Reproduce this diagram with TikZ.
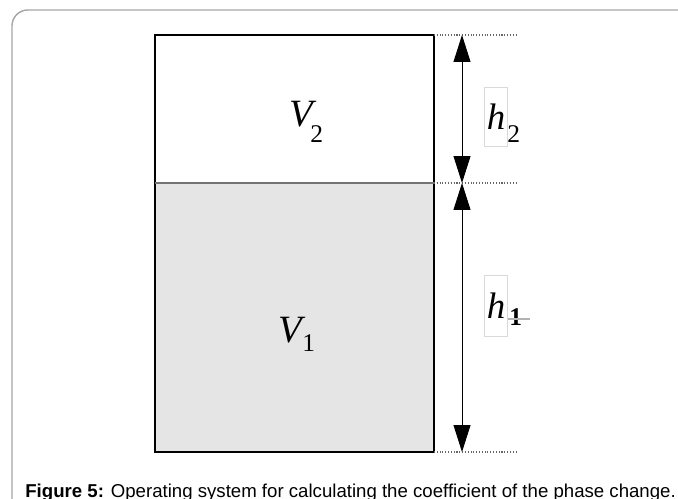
\documentclass[tikz,border=0pt]{standalone}
\usepackage{fontspec}
\setmainfont{Liberation Serif}
\newfontfamily\capfont{Liberation Sans}
\usetikzlibrary{arrows.meta,positioning}

\begin{document}
\begin{tikzpicture}[x=0.02cm, y=-0.02cm,
	   >={Triangle[length=0.54cm,width=0.34cm]},
	   dim/.style={<->, line width=0.5pt},
	   guide/.style={densely dotted, black!60, line width=0.6pt},
	   vol/.style={inner sep=0pt, font=\fontsize{22}{22}\selectfont\itshape},
	   hbox/.style={draw=black!15, line width=0.4pt, minimum width=0.46cm, inner sep=0pt, font=\fontsize{21}{21}\selectfont\itshape},
	   sub/.style={inner sep=0pt, font=\fontsize{14.5}{14.5}\selectfont}]
	  \useasboundingbox (0,0) rectangle (678,499);
	  \begin{scope}
	    \clip (0,0) rectangle (678,499);
	    \draw[black!35, line width=0.8pt, rounded corners=9pt] (12,10) rectangle (720,540);
	  \end{scope}
	  % tank
	  \coordinate (tl) at (155,35);
	  \coordinate (ml) at (155,183);
	  \coordinate (mr) at (434,183);
	  \coordinate (tr) at (434,35);
	  \coordinate (br) at (434,452);
	  \fill[black!10] (ml) rectangle (br);
	  \draw[line width=0.7pt] (tl) rectangle (br);
	  \draw[black!55, line width=1pt] (ml) -- (mr);
	  % volumes
	  \node[vol] (v2) at (301,114) {V};
	  \node[sub, anchor=north west] (v2s) at (310,125) {2};
	  \node[vol] (v1) at (290,330) {V};
	  \node[sub, anchor=north west] (v1s) at (302,334) {1};
	  % dimensions
	  \coordinate (a) at (462,35);
	  \coordinate (b) at (462,183);
	  \coordinate (c) at (462,452);
	  \draw[guide] (tr) -- (517,35);
	  \draw[guide] (mr) -- (517,183);
	  \draw[guide] (br) -- (517,452);
	  \draw[dim] (a) -- (b);
	  \draw[dim] (b) -- (c);
	  \node[hbox, minimum height=1.18cm] (h2) at (496,117) {h};
	  \node[sub, anchor=north west] (h2s) at (507,125) {2};
	  \node[hbox, minimum height=1.22cm] (h1) at (496,306) {h};
	  \node[sub, anchor=north west, font=\fontsize{14.5}{14.5}\selectfont\bfseries] (h1s) at (509,308) {1};
	  \draw[black!30, line width=0.6pt] (h1.east |- 0,319) -- (530,319);
	  % caption
	  \node[anchor=base west, inner sep=0pt, font=\capfont\fontsize{10.6}{12}\selectfont] (cap) at (25,497)
	    {\textbf{Figure 5:} Operating system for calculating the coefficient of the phase change.};
	\end{tikzpicture}
\end{document}
